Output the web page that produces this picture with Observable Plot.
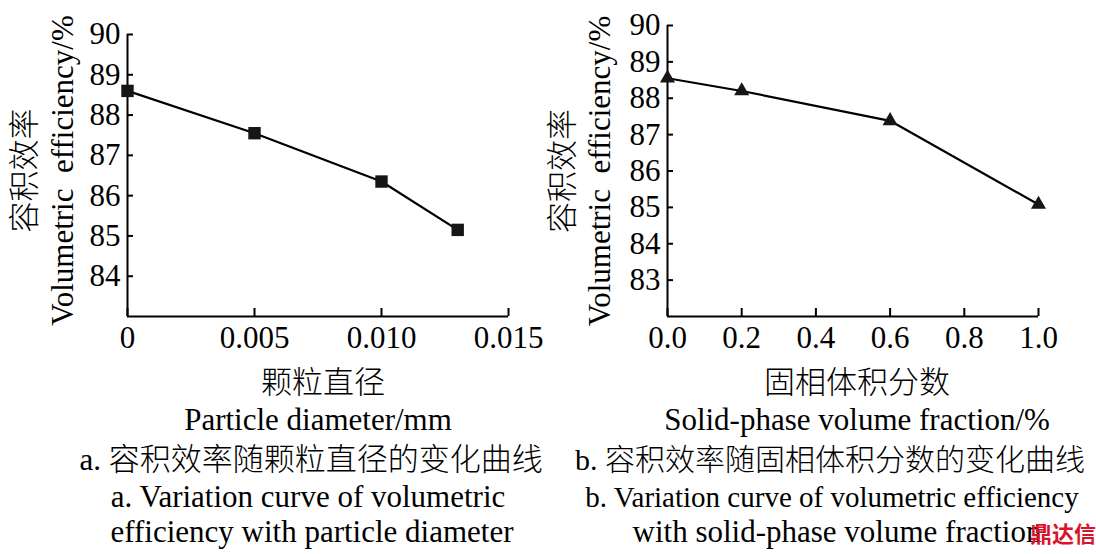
<!DOCTYPE html>
<html><head><meta charset="utf-8">
<script src="https://cdn.jsdelivr.net/npm/d3@7"></script>
<script src="https://cdn.jsdelivr.net/npm/@observablehq/plot@0.6"></script>
<style>
body{margin:0;background:#fff;}
#wrap{position:relative;width:1096px;height:554px;overflow:hidden;background:#fff;}
#a,#b{position:absolute;top:0;}
#a{left:0;} #b{left:548px;}
</style></head><body><div id="wrap"><div id="a"></div><div id="b"></div></div>
<script>
// Panel a: volumetric efficiency vs particle diameter
const diameter = [0, 0.005, 0.010, 0.013];
const effA = [88.6, 87.55, 86.35, 85.15];
const xTicksA = [0, 0.005, 0.010, 0.015];
const xTickLabelsA = ["0", "0.005", "0.010", "0.015"];
const yTicksA = [84, 85, 86, 87, 88, 89, 90];
const textA = {
  yCN: "容积效率",
  yEN: "Volumetric\u00a0 efficiency/%",
  xCN: "颗粒直径",
  xEN: "Particle diameter/mm",
  capCN: "a. 容积效率随颗粒直径的变化曲线",
  capEN1: "a. Variation curve of volumetric",
  capEN2: "efficiency with particle diameter"
};
// Panel b: volumetric efficiency vs solid-phase volume fraction
const fraction = [0.0, 0.2, 0.6, 1.0];
const effB = [88.55, 88.2, 87.38, 85.08];
const xTicksB = [0, 0.2, 0.4, 0.6, 0.8, 1.0];
const xTickLabelsB = ["0.0", "0.2", "0.4", "0.6", "0.8", "1.0"];
const yTicksB = [83, 84, 85, 86, 87, 88, 89, 90];
const textB = {
  yCN: "容积效率",
  yEN: "Volumetric\u00a0 efficiency/%",
  xCN: "固相体积分数",
  xEN: "Solid-phase volume fraction/%",
  capCN: "b. 容积效率随固相体积分数的变化曲线",
  capEN1: "b. Variation curve of volumetric efficiency",
  capEN2: "with solid-phase volume fraction"
};
const watermark = "鼎达信";

const FONT = "'Liberation Serif', 'Times New Roman', 'Noto Sans CJK SC', serif";

function panel(o) {
  const W = 548, H = 554, mBottom = 238;
  const pw = W - o.mLeft - o.mRight, ph = H - o.mTop - mBottom;
  const data = o.xs.map((x, i) => ({x, y: o.ys[i]}));
  const t = o.text;
  const txt = (s, opts) => Plot.text([s], {text: d => d, fontSize: 31, fill: "#000", lineAnchor: "middle", ...opts});
  const marks = [
    Plot.axisY({ticks: o.yTicks, tickSize: 0, tickPadding: 7, label: null, fontSize: 31, tickFormat: d => String(d)}),
    Plot.axisX({ticks: o.xTicks, tickSize: 0, tickPadding: 9, label: null, fontSize: 31,
      tickFormat: d => o.xLabels[o.xTicks.findIndex(v => Math.abs(v - d) < 1e-9)]}),
    Plot.tickY(o.yTicks, {y: d => d, insetRight: pw - 6, strokeWidth: 2, stroke: "#000"}),
    Plot.tickX(o.xTicks, {x: d => d, insetTop: ph - 8, strokeWidth: 2, stroke: "#000"}),
    Plot.ruleX([o.xDomain[0]], {strokeWidth: 2, stroke: "#000"}),
    Plot.ruleY([o.yDomain[0]], {strokeWidth: 2, stroke: "#000"}),
    Plot.line(data, {x: "x", y: "y", strokeWidth: 2.2, stroke: "#000"}),
    Plot.dot(data, {x: "x", y: "y", symbol: o.symbol, r: o.r, fill: "#161616", stroke: null}),
    txt(t.yCN, {frameAnchor: "left", rotate: -90, textAnchor: "middle", dx: o.yCNdx, dy: o.ydy, fontWeight: 300}),
    txt(t.yEN, {frameAnchor: "left", rotate: -90, textAnchor: "middle", dx: o.yENdx, dy: o.ydy}),
    txt(t.xCN, {frameAnchor: "bottom", dx: o.dxs[0], dy: 67, fontWeight: 300}),
    txt(t.xEN, {frameAnchor: "bottom", dx: o.dxs[1], dy: 104}),
    txt(t.capCN, {frameAnchor: "bottom", dx: o.dxs[2], dy: 144, fontSize: o.capSize, fontWeight: 300}),
    txt(t.capEN1, {frameAnchor: "bottom", dx: o.dxs[3], dy: 181, fontSize: o.cap1Size}),
    txt(t.capEN2, {frameAnchor: "bottom", dx: o.dxs[4], dy: 216})
  ];
  if (o.extra) marks.push(...o.extra);
  return Plot.plot({
    width: W, height: H,
    marginLeft: o.mLeft, marginRight: o.mRight, marginTop: o.mTop, marginBottom: mBottom,
    x: {domain: o.xDomain}, y: {domain: o.yDomain},
    style: {fontFamily: FONT, fontSize: "31px", color: "#000", background: "transparent", overflow: "visible"},
    marks
  });
}

document.getElementById("a").append(panel({
  xs: diameter, ys: effA, xDomain: [0, 0.015], yDomain: [83, 90],
  xTicks: xTicksA, xLabels: xTickLabelsA, yTicks: yTicksA,
  symbol: "square", r: 7, mLeft: 127, mRight: 40, mTop: 34,
  text: textA, yCNdx: -102, yENdx: -64, ydy: -5, capSize: 31, cap1Size: 31,
  dxs: [5, 0, -7, -10, -6]
}));

document.getElementById("b").append(panel({
  xs: fraction, ys: effB, xDomain: [0, 1], yDomain: [82, 90],
  xTicks: xTicksB, xLabels: xTickLabelsB, yTicks: yTicksB,
  symbol: "triangle", r: 5.6, mLeft: 119, mRight: 58, mTop: 25,
  text: textB, yCNdx: -104, yENdx: -67, ydy: 0, capSize: 30, cap1Size: 29,
  dxs: [4, 4, -23, -21, -16],
  extra: [Plot.text([watermark], {text: d => d, frameAnchor: "bottom", dx: 210, dy: 218,
    fontSize: 22, fontWeight: "bold", fill: "#d8132a", lineAnchor: "middle", fontFamily: "'Noto Sans CJK SC', sans-serif"})]
}));
</script>
</body></html>
